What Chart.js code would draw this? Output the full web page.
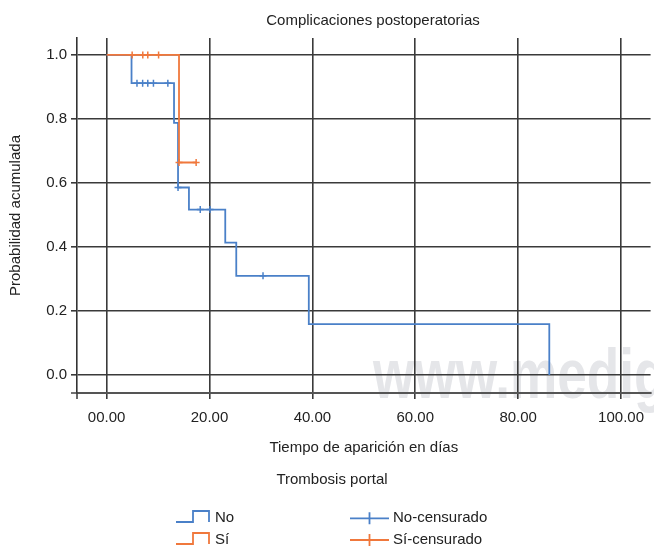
<!DOCTYPE html>
<html>
<head>
<meta charset="utf-8">
<script src="https://cdn.jsdelivr.net/npm/chart.js@4.4.1/dist/chart.umd.min.js"></script>
<style>
  body { margin: 0; background: #fff; }
  #wrap { width: 654px; height: 548px; position: relative; }
</style>
</head>
<body>
<div id="wrap"><canvas id="myChart"></canvas></div>
<script>
// ejes
const xTicks = [0, 20, 40, 60, 80, 100];
const xTickLabels = ['00.00', '20.00', '40.00', '60.00', '80.00', '100.00'];
const yTicks = [0, 0.2, 0.4, 0.6, 0.8, 1.0];
const yTickLabels = ['0.0', '0.2', '0.4', '0.6', '0.8', '1.0'];

// grupo "No"
const noTimes = [0, 4.84, 13.1, 13.88, 16.0, 23.06, 25.2, 39.3, 86.05];
const noSurv = [1.0, 0.912, 0.788, 0.586, 0.517, 0.414, 0.31, 0.159, 0.0];
const noCensTimes = [5.9, 7.0, 8.0, 9.1, 11.9, 13.88, 18.2, 20.1, 30.4];
const noCensSurv = [0.912, 0.912, 0.912, 0.912, 0.912, 0.586, 0.517, 0.517, 0.31];

// grupo "Sí"
const siTimes = [0, 14.07, 17.4];
const siSurv = [1.0, 0.664, 0.664];
const siCensTimes = [4.96, 7.03, 8.0, 10.1, 14.07, 17.4];
const siCensSurv = [1.0, 1.0, 1.0, 1.0, 0.664, 0.664];

const blue = '#4a80c8';
const orange = '#f0783c';
const FONT = '"Liberation Sans", Arial, sans-serif';

function pts(xs, ys) {
  return xs.map((x, i) => ({ x: x, y: ys[i] }));
}

const extras = {
  id: 'extras',
  beforeDraw(chart) {
    const ctx = chart.ctx;
    ctx.save();
    ctx.fillStyle = '#e5e6e9';
    ctx.font = 'bold 70px ' + FONT;
    ctx.textBaseline = 'alphabetic';
    ctx.translate(373, 398);
    ctx.scale(0.76, 1);
    ctx.fillText('www.medigraphic.com', 0, 0);
    ctx.restore();
  },
  afterDraw(chart) {
    const ctx = chart.ctx;
    const area = chart.chartArea;
    ctx.save();
    // prolongación de los ejes en la esquina
    ctx.strokeStyle = '#444';
    ctx.lineWidth = 1.6;
    ctx.beginPath();
    ctx.moveTo(area.left, area.bottom);
    ctx.lineTo(area.left, area.bottom + 6);
    ctx.moveTo(area.left, area.bottom);
    ctx.lineTo(area.left - 6, area.bottom);
    ctx.stroke();

    ctx.fillStyle = '#222';
    ctx.font = '15px ' + FONT;
    ctx.textBaseline = 'alphabetic';
    ctx.textAlign = 'center';
    ctx.fillText('Complicaciones postoperatorias', 373, 24.5);
    ctx.fillText('Trombosis portal', 332, 484);

    // leyenda
    ctx.textAlign = 'left';
    ctx.lineWidth = 1.8;
    const rows = [
      { color: blue, label: 'No', cens: 'No-censurado', low: 522, high: 511, base: 522.3, cy: 518.3 },
      { color: orange, label: 'Sí', cens: 'Sí-censurado', low: 544, high: 533, base: 544.3, cy: 540 }
    ];
    rows.forEach(r => {
      ctx.strokeStyle = r.color;
      ctx.beginPath();
      ctx.moveTo(176, r.low);
      ctx.lineTo(193, r.low);
      ctx.lineTo(193, r.high);
      ctx.lineTo(209, r.high);
      ctx.lineTo(209, r.low);
      ctx.stroke();
      ctx.beginPath();
      ctx.moveTo(350, r.cy);
      ctx.lineTo(389, r.cy);
      ctx.moveTo(369.5, r.cy - 6);
      ctx.lineTo(369.5, r.cy + 6);
      ctx.stroke();
      ctx.fillText(r.label, 215, r.base);
      ctx.fillText(r.cens, 393, r.base);
    });
    ctx.restore();
  }
};

Chart.defaults.font.family = FONT;
Chart.defaults.font.size = 15;
Chart.defaults.color = '#222';

const ctx = document.getElementById('myChart');
new Chart(ctx, {
  type: 'scatter',
  data: {
    datasets: [
      {
        label: 'Sí',
        data: pts(siTimes, siSurv),
        showLine: true,
        stepped: true,
        borderColor: orange,
        borderWidth: 1.8,
        pointRadius: 0,
        fill: false
      },
      {
        label: 'Sí-censurado',
        data: pts(siCensTimes, siCensSurv),
        showLine: false,
        pointStyle: 'cross',
        pointRadius: 3.5,
        borderColor: orange,
        pointBorderWidth: 1.5
      },
      {
        label: 'No',
        data: pts(noTimes, noSurv),
        showLine: true,
        stepped: true,
        borderColor: blue,
        borderWidth: 1.8,
        pointRadius: 0,
        fill: false
      },
      {
        label: 'No-censurado',
        data: pts(noCensTimes, noCensSurv),
        showLine: false,
        pointStyle: 'cross',
        pointRadius: 3.5,
        borderColor: blue,
        pointBorderWidth: 1.5
      }
    ]
  },
  options: {
    responsive: true,
    maintainAspectRatio: false,
    animation: false,
    layout: { autoPadding: false, padding: { top: 38, left: 0, right: 0, bottom: 0 } },
    plugins: {
      legend: { display: false },
      tooltip: { enabled: false },
      title: { display: false }
    },
    scales: {
      x: {
        type: 'linear',
        min: -5.76,
        max: 105.74,
        afterFit: s => { s.height = 155; },
        afterBuildTicks: s => { s.ticks = xTicks.map(v => ({ value: v })); },
        ticks: {
          padding: 10,
          maxRotation: 0,
          autoSkip: false,
          callback: (v, i) => xTickLabels[i]
        },
        grid: { color: '#3a3a3a', lineWidth: 1.6, tickLength: 6 },
        border: { color: '#555', width: 2 },
        title: {
          display: true,
          text: 'Tiempo de aparición en días',
          padding: { top: 0, bottom: 91 }
        }
      },
      y: {
        type: 'linear',
        min: -0.056,
        max: 1.053,
        afterFit: s => { s.width = 77; },
        afterBuildTicks: s => { s.ticks = yTicks.map(v => ({ value: v })); },
        ticks: {
          padding: 4,
          autoSkip: false,
          callback: (v, i) => yTickLabels[i]
        },
        grid: { color: '#3a3a3a', lineWidth: 1.6, tickLength: 6 },
        border: { color: '#333', width: 1.6 },
        title: {
          display: true,
          text: 'Probabilidad acumulada',
          padding: { top: 6.5, bottom: 0 }
        }
      }
    }
  },
  plugins: [extras]
});
</script>
</body>
</html>
